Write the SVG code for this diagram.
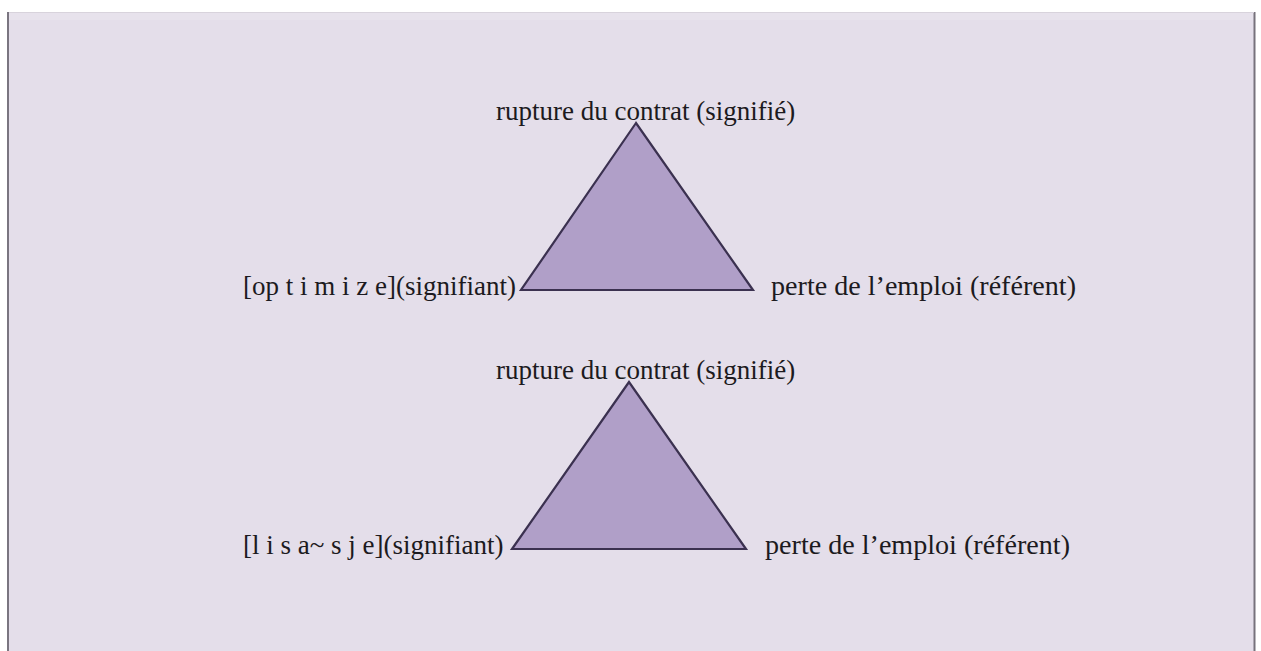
<svg xmlns="http://www.w3.org/2000/svg" width="1261" height="651" viewBox="0 0 1261 651">
  <style>
    .lbl { font-family: "Liberation Serif", "Times New Roman", serif; font-size: 27px; fill: #1c1a20; }
    .tri { fill: #b09fc8; stroke: #3b3150; stroke-width: 2.2; stroke-linejoin: miter; }
  </style>
  <rect x="0" y="0" width="1261" height="651" fill="#ffffff"/>
  <rect x="7" y="12" width="1248" height="639" fill="#e4deea"/>
  <rect x="8" y="12" width="1246" height="8" fill="#e7e2ec"/>
  <line x1="8" y1="12" x2="8" y2="651" stroke="#7a7580" stroke-width="2"/>
  <line x1="1254.5" y1="12" x2="1254.5" y2="651" stroke="#77727c" stroke-width="2"/>
  <line x1="9" y1="12.5" x2="1254" y2="12.5" stroke="#d8d3dc" stroke-width="1"/>

  <g id="connectors"></g>

  <g id="triangle-1">
    <polygon class="tri" points="636,123 521,290 753,290"/>
  </g>
  <g id="signifie-1">
    <text class="lbl" x="496" y="120">rupture du contrat (signifié)</text>
  </g>
  <g id="signifiant-1">
    <text class="lbl" x="243" y="295">[op t i m i z e](signifiant)</text>
  </g>
  <g id="referent-1">
    <text class="lbl" x="771" y="295" textLength="305" lengthAdjust="spacingAndGlyphs">perte de l’emploi (référent)</text>
  </g>

  <g id="triangle-2">
    <polygon class="tri" points="629,382 512,549 746,549"/>
  </g>
  <g id="signifie-2">
    <text class="lbl" x="496" y="379">rupture du contrat (signifié)</text>
  </g>
  <g id="signifiant-2">
    <text class="lbl" x="243" y="554">[l i s a~ s j e](signifiant)</text>
  </g>
  <g id="referent-2">
    <text class="lbl" x="765" y="554" textLength="305" lengthAdjust="spacingAndGlyphs">perte de l’emploi (référent)</text>
  </g>
</svg>
